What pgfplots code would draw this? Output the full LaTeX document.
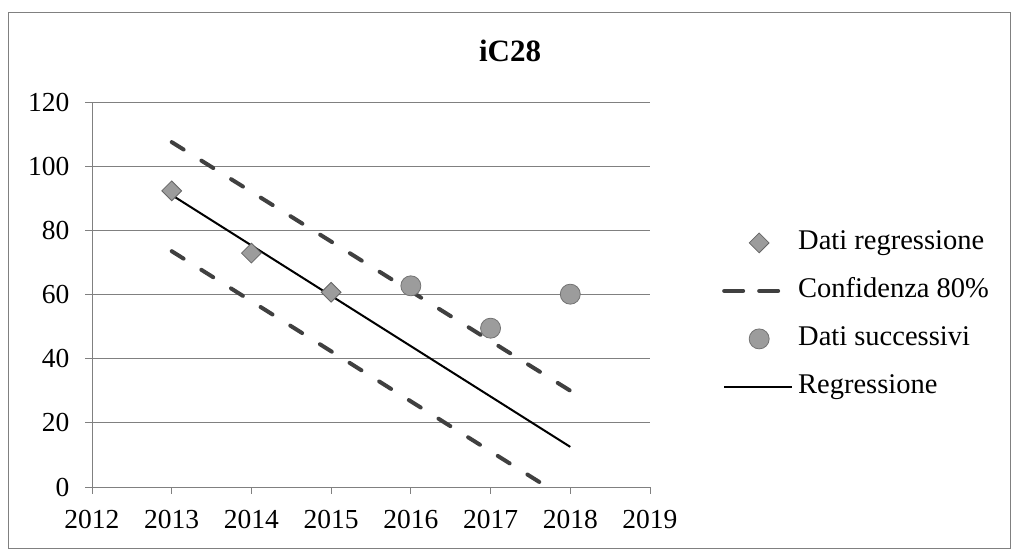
\documentclass[border=0pt]{standalone}
\usepackage{pgfplots}
\pgfplotsset{compat=1.18}
\usepackage{fontspec}
\setmainfont{Liberation Serif}
\definecolor{mk}{HTML}{9C9C9C}
\definecolor{gridc}{HTML}{808080}
\pgfplotsset{
  longleg/.style={legend image code/.code={\draw[mark repeat=2,mark phase=2,##1] plot coordinates {(0pt,0pt)(35pt,0pt)(68pt,0pt)};}},
  dashleg/.style={legend image code/.code={\draw[##1, dash pattern=on 19pt off 16pt] (0pt,0pt) -- (56pt,0pt);}},
}
\begin{document}
\begin{tikzpicture}[x=1pt,y=1pt]
\useasboundingbox (0,0) rectangle (1013,551);
\draw[gridc, line width=0.8pt] (8,3) rectangle (1010,539);
\node[anchor=base, font=\fontsize{31}{36}\selectfont\bfseries] at (510,489) {iC28};
\begin{axis}[
  at={(92pt,64pt)}, anchor=south west, scale only axis,
  width=558pt, height=385pt,
  xmin=2012, xmax=2019, ymin=0, ymax=120,
  xtick={2012,2013,2014,2015,2016,2017,2018,2019},
  ytick={0,20,40,60,80,100,120},
  axis line style={draw=none},
  xtick pos=bottom, ytick pos=left,
  ymajorgrids, major grid style={gridc, line width=0.8pt},
  tick align=outside, major tick length=7pt,
  tick style={gridc, line width=0.8pt},
  ticklabel style={font=\fontsize{27.5}{32}\selectfont},
  /pgf/number format/assume math mode=true,
  x tick label style={/pgf/number format/1000 sep={}, yshift=-13pt},
  y tick label style={xshift=-12pt},
  legend cell align=left,
  longleg,
  legend style={draw=none, fill=none, at={(rel axis cs:1.129,0.667)}, anchor=north west,
    font=\fontsize{28.5}{33}\selectfont, inner sep=0pt, row sep=23pt, column sep=5pt,
    nodes={inner sep=0pt, text height=19pt, text depth=6pt}},
]
\draw[gridc, line width=0.8pt] (rel axis cs:0,0) -- (rel axis cs:0,1);
\addplot[only marks, mark=square*, mark size=7pt, mark options={rotate=45, fill=mk, draw=black!60, line width=0.8pt}]
  coordinates {(2013,92.3) (2014,72.9) (2015,60.7)};
\addlegendentry{Dati regressione}
\addplot[black!75, line width=4pt, line cap=round, dash pattern=on 14pt off 21pt, dashleg]
  coordinates {(2013,107.5) (2018,30)};
\addlegendentry{Confidenza 80\%}
\addplot[black!75, line width=4pt, line cap=round, dash pattern=on 14pt off 21pt, forget plot]
  coordinates {(2013,73.5) (2018,-4.5)};
\addplot[only marks, mark=*, mark size=10pt, mark options={fill=mk, draw=black!55, line width=0.8pt}]
  coordinates {(2016,62.7) (2017,49.5) (2018,60.1)};
\addlegendentry{Dati successivi}
\addplot[black, line width=2pt] coordinates {(2013,91) (2018,12.5)};
\addlegendentry{Regressione}
\end{axis}
\end{tikzpicture}
\end{document}
